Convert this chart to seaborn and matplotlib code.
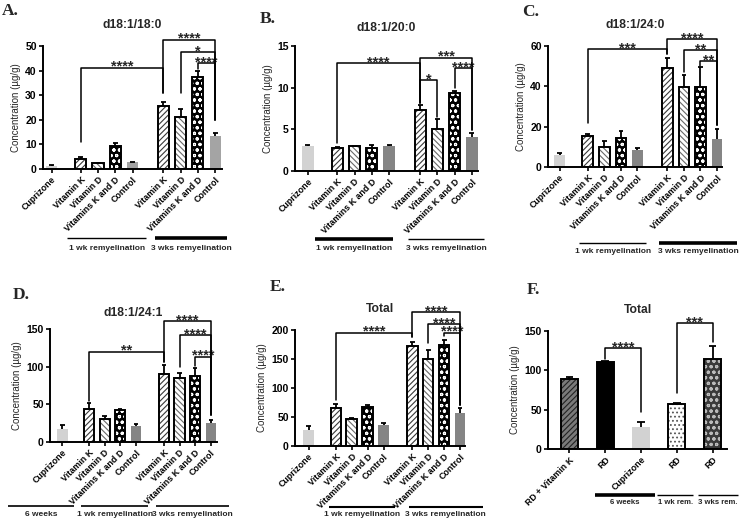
import numpy as np
import matplotlib
matplotlib.use('Agg')
import matplotlib.pyplot as plt
import seaborn as sns

sns.set_theme(style='ticks')
plt.rcParams['font.family'] = ['Liberation Sans', 'DejaVu Sans']
plt.rcParams['hatch.linewidth'] = 0.8

# ---------------- data ----------------
labels_main = ['Cuprizone', 'Vitamin K', 'Vitamin D', 'Vitamins K and D', 'Control',
               'Vitamin K', 'Vitamin D', 'Vitamins K and D', 'Control']
styles_main = ['cup', 'vk', 'vd', 'vkd', 'ctl', 'vk', 'vd', 'vkd', 'ctl']
styles_a = ['cup', 'vk', 'vd', 'vkd', 'ctlA', 'vk', 'vd', 'vkd', 'ctlA']

a_mean = [1.3, 4.0, 2.3, 9.3, 2.7, 25.5, 21.0, 37.5, 13.3]
a_err = [0.5, 1.0, 0.3, 1.2, 0.3, 1.8, 3.2, 2.2, 1.5]

b_mean = [3.0, 2.7, 2.95, 2.8, 3.0, 7.3, 5.0, 9.3, 4.1]
b_err = [0.1, 0.2, 0.1, 0.3, 0.1, 0.6, 1.2, 0.3, 0.5]

c_mean = [6.0, 15.5, 10.0, 14.5, 8.5, 49.0, 39.5, 39.5, 14.0]
c_err = [1.0, 1.0, 3.0, 3.5, 1.0, 5.0, 6.0, 10.0, 5.0]

d_mean = [17.0, 44.0, 30.0, 42.0, 21.0, 90.0, 85.0, 88.0, 25.0]
d_err = [6.0, 8.0, 4.0, 2.0, 3.0, 12.0, 6.0, 10.0, 4.0]

e_mean = [28.0, 66.0, 46.0, 68.0, 36.0, 172.0, 150.0, 174.0, 57.0]
e_err = [6.0, 7.0, 3.0, 3.0, 3.0, 8.0, 15.0, 9.0, 8.0]

f_labels = ['RD + Vitamin K', 'RD', 'Cuprizone', 'RD', 'RD']
f_styles = ['rdvk', 'rd', 'cup', 'rd1', 'rd3']
f_mean = [89.0, 110.0, 28.0, 57.0, 114.0]
f_err = [3.0, 2.0, 6.0, 1.5, 17.0]

# significance brackets: (bar i, bar j, bracket level, leg end i, leg end j, stars)
a_sig = [(1, 5, 41.2, 11.0, 31.0, '****'), (5, 8, 52.5, 31.0, 20.0, '****'),
         (6, 8, 47.4, 31.0, 20.0, '*'), (7, 8, 43.0, 40.5, 20.0, '****')]
b_sig = [(1, 5, 12.9, 3.3, 8.2, '****'), (5, 8, 13.6, 8.2, 4.9, '***'),
         (5, 6, 10.9, 8.2, 6.5, '*'), (7, 8, 12.3, 9.9, 4.9, '****')]
c_sig = [(1, 5, 58.3, 22.0, 56.0, '***'), (5, 8, 63.4, 56.0, 21.0, '****'),
         (6, 8, 58.0, 47.0, 21.0, '**'), (7, 8, 52.5, 50.0, 21.0, '**')]
d_sig = [(1, 5, 120.0, 54.0, 106.0, '**'), (5, 8, 160.0, 106.0, 36.0, '****'),
         (6, 8, 142.0, 100.0, 36.0, '****'), (7, 8, 113.0, 101.0, 36.0, '****')]
e_sig = [(1, 5, 195.0, 79.0, 188.0, '****'), (5, 8, 231.0, 188.0, 71.0, '****'),
         (6, 8, 210.0, 178.0, 71.0, '****'), (7, 8, 195.0, 190.0, 71.0, '****')]
f_sig = [(1, 2, 128.0, 115.0, 47.0, '****'), (3, 4, 160.0, 71.0, 136.0, '***')]

# ---------------- layout helpers ----------------
W, H = 740, 520
fig = plt.figure(figsize=(W / 100, H / 100), dpi=100)
fig.patch.set_facecolor('white')

pos_main = [0, 1.7, 2.7, 3.7, 4.7, 6.5, 7.5, 8.5, 9.5]
pos_f = [0, 1, 2, 3, 4]

STYLE = {
    'cup': dict(fc='#d2d2d2', ec='none', hatch=None, hc=None, lw=0),
    'ctl': dict(fc='#858585', ec='none', hatch=None, hc=None, lw=0),
    'ctlA': dict(fc='#a4a4a4', ec='none', hatch=None, hc=None, lw=0),
    'vk': dict(fc='white', ec='black', hatch='//////', hc='#3a3a3a', lw=1.4),
    'vd': dict(fc='white', ec='black', hatch='\\\\\\\\\\\\', hc='#6a6a6a', lw=1.4),
    'vkd': dict(fc='black', ec='black', hatch='ooo', hc='white', lw=1.4),
    'rdvk': dict(fc='#7a7a7a', ec='black', hatch='//////', hc='#222222', lw=1.4),
    'rd': dict(fc='black', ec='black', hatch=None, hc=None, lw=1.4),
    'rd1': dict(fc='white', ec='black', hatch='....', hc='#555555', lw=1.4),
    'rd3': dict(fc='#3a3a3a', ec='black', hatch='ooo', hc='#bbbbbb', lw=1.4),
}


def make_ax(left, top, right, bottom):
    return fig.add_axes([left / W, 1 - bottom / H, (right - left) / W, (bottom - top) / H])


def panel(ax, pos, mean, err, styles, labels, ylim, yticks, title, title_pad,
          sig, groups, xlim, width, ax_h, gfs=6.0):
    sns.barplot(x=pos, y=mean, native_scale=True, orient='x', width=width,
                errorbar=None, color='gray', ax=ax, zorder=2)
    for p, st in zip(ax.patches, styles):
        s = STYLE[st]
        p.set_facecolor(s['fc'])
        p.set_edgecolor(s['ec'])
        p.set_linewidth(s['lw'])
        if s['hatch']:
            p.set_hatch(s['hatch'])
            p._hatch_color = matplotlib.colors.to_rgba(s['hc'])
    # upper-only error bars
    xs = np.asarray(pos, float)
    m = np.asarray(mean, float)
    e = np.asarray(err, float)
    cap = width * 0.22
    ax.vlines(xs, m, m + e, color='black', lw=1.3, zorder=3)
    ax.hlines(m + e, xs - cap, xs + cap, color='black', lw=1.3, zorder=3)

    ax.set_xlim(*xlim)
    ax.set_ylim(*ylim)
    ax.set_yticks(yticks)
    ax.set_yticklabels([str(t) for t in yticks], fontsize=7.5, fontweight='bold')
    ax.set_xticks(pos)
    ax.set_xticklabels(labels, rotation=45, ha='right', rotation_mode='anchor',
                       fontsize=6.4, fontweight='bold')
    ax.set_xlabel('')
    ax.set_ylabel('Concentration (\u00b5g/g)', fontsize=7, labelpad=3)
    ax.set_title(title, fontsize=8.7, fontweight='bold', pad=title_pad)
    ax.set_facecolor('white')
    sns.despine(ax=ax)
    for sp in ('left', 'bottom'):
        ax.spines[sp].set_linewidth(1.4)
        ax.spines[sp].set_color('black')
    ax.tick_params(axis='both', direction='out', length=3, width=1.2, color='black',
                   pad=1.5, labelcolor='black')

    for i, j, lvl, yi, yj, txt in sig:
        xi, xj = pos[i], pos[j]
        ax.plot([xi, xi, xj, xj], [yi, lvl, lvl, yj], color='black', lw=1.1,
                clip_on=False, zorder=4)
        ax.annotate(txt, xy=((xi + xj) / 2, lvl), xytext=(0, -2.2),
                    textcoords='offset points', ha='center', va='baseline',
                    fontsize=10.5, fontweight='bold', annotation_clip=False)

    tr = ax.get_xaxis_transform()
    for x0, x1, txt, lw, off_line, off_txt in groups:
        yl = -off_line / ax_h
        yt = -off_txt / ax_h
        ax.plot([x0, x1], [yl, yl], color='black', lw=lw, transform=tr,
                clip_on=False, solid_capstyle='butt')
        ax.text((x0 + x1) / 2, yt, txt, transform=tr, ha='center', va='center',
                fontsize=gfs, fontweight='bold')


# ---------------- panels ----------------
axA = make_ax(43, 46, 222, 169)
panel(axA, pos_main, a_mean, a_err, styles_a, labels_main, (0, 50),
      [0, 10, 20, 30, 40, 50], 'd18:1/18:0', 13,
      a_sig, [(0.9, 5.5, '1 wk remyelination', 1.0, 69, 80),
              (6.0, 10.2, '3 wks remyelination', 2.6, 69, 80)],
      (-0.5, 9.9), 0.65, 123)

axB = make_ax(295, 46, 478, 171)
panel(axB, pos_main, b_mean, b_err, styles_main, labels_main, (0, 15),
      [0, 5, 10, 15], 'd18:1/20:0', 11,
      b_sig, [(0.4, 4.9, '1 wk remyelination', 2.6, 68, 78),
              (5.8, 10.2, '3 wks remyelination', 1.0, 68, 78)],
      (-0.75, 9.85), 0.65, 125)

axC = make_ax(548, 46, 722, 167)
panel(axC, pos_main, c_mean, c_err, styles_main, labels_main, (0, 60),
      [0, 20, 40, 60], 'd18:1/24:0', 13,
      c_sig, [(1.2, 5.2, '1 wk remyelination', 1.0, 76, 84),
              (6.0, 10.7, '3 wks remyelination', 2.6, 76, 84)],
      (-0.7, 9.8), 0.65, 121)

axD = make_ax(50, 329, 217, 442)
panel(axD, pos_main, d_mean, d_err, styles_main, labels_main, (0, 150),
      [0, 50, 100, 150], 'd18:1/24:1', 9,
      d_sig, [(-3.5, 0.75, '6 weeks', 1.2, 64, 73),
              (1.2, 5.5, '1 wk remyelination', 1.2, 64, 73),
              (6.0, 10.7, '3 wks remyelination', 1.2, 64, 73)],
      (-0.8, 9.9), 0.65, 113)

axE = make_ax(295, 330, 465, 446)
panel(axE, pos_main, e_mean, e_err, styles_main, labels_main, (0, 200),
      [0, 50, 100, 150, 200], 'Total', 13,
      e_sig, [(1.27, 5.4, '1 wk remyelination', 1.5, 61, 69),
              (6.3, 10.9, '3 wks remyelination', 1.5, 61, 69)],
      (-0.85, 9.8), 0.65, 116)

axF = make_ax(548, 331, 727, 449)
panel(axF, pos_f, f_mean, f_err, f_styles, f_labels, (0, 150),
      [0, 50, 100, 150], 'Total', 13,
      f_sig, [(0.7, 2.4, '6 weeks', 2.6, 46, 54),
              (2.45, 3.45, '1 wk rem.', 1.0, 46, 54),
              (3.6, 4.7, '3 wks rem.', 1.0, 46, 54)],
      (-0.6, 4.4), 0.48, 118, gfs=5.6)

# panel letters
for txt, x, y in [('A.', 2, 3), ('B.', 260, 11), ('C.', 522, 4),
                  ('D.', 13, 287), ('E.', 270, 279), ('F.', 527, 282)]:
    fig.text(x / W, 1 - y / H, txt, ha='left', va='top', fontsize=12.5,
             fontweight='bold', family=['Liberation Serif', 'DejaVu Serif'])

fig.savefig('out.png', dpi=100, facecolor='white')
